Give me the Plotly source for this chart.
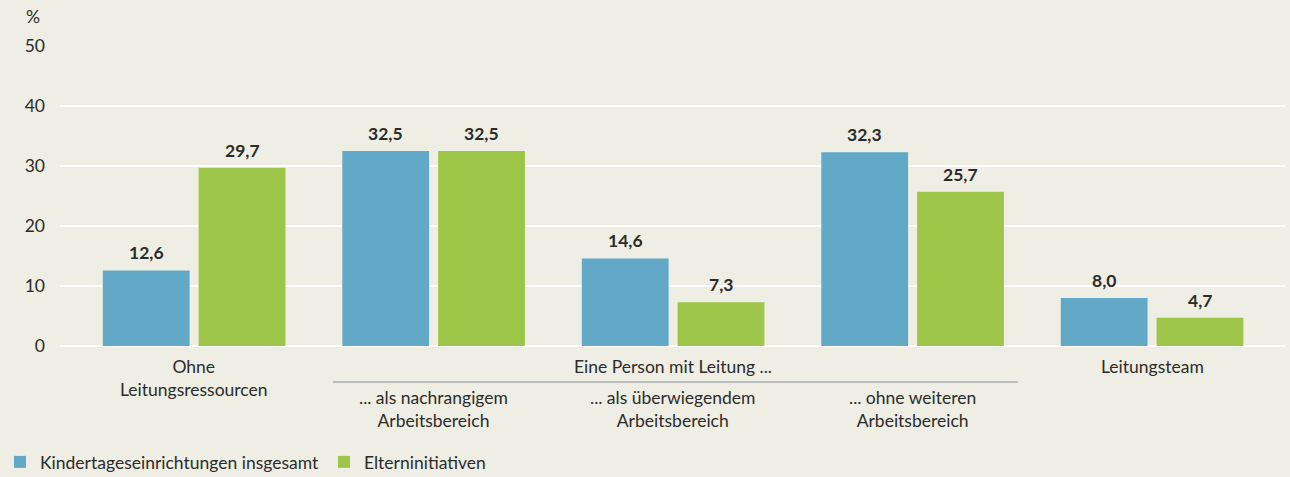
import plotly.graph_objects as go

categories = ["Ohne<br>Leitungsressourcen", "... als nachrangigem<br>Arbeitsbereich",
              "... als überwiegendem<br>Arbeitsbereich", "... ohne weiteren<br>Arbeitsbereich",
              "Leitungsteam"]
kita = [12.6, 32.5, 14.6, 32.3, 8.0]
eltern = [29.7, 32.5, 7.3, 25.7, 4.7]
series_names = ["Kindertageseinrichtungen insgesamt", "Elterninitiativen"]
group_label = "Eine Person mit Leitung ..."
y_ticks = [0, 10, 20, 30, 40, 50]

BG = "#EFEEE4"
BLUE = "#62A8C7"
GREEN = "#9DC548"
TXT = "#2b2b2b"
FONT = "Lato"
FS = 17.5
BARGAP = 0.2

x = list(range(len(categories)))
slot = (1 - BARGAP) / 2

fig = go.Figure()
annotations = []
for k, (name, vals, col) in enumerate([(series_names[0], kita, BLUE), (series_names[1], eltern, GREEN)]):
    fig.add_trace(go.Bar(x=x, y=vals, name=name, marker_color=col, marker_line_width=0))
    off = (k - 0.5) * slot
    for xi, v in zip(x, vals):
        annotations.append(dict(x=xi + off, y=v, xref="x", yref="y", showarrow=False,
                                text=f"{v:.1f}".replace(".", ","), yanchor="bottom", xanchor="center",
                                yshift=5, font=dict(family=FONT, size=17.5, color=TXT, weight="bold")))

for i in [0, 4]:
    annotations.append(dict(x=i, y=-0.028, xref="x", yref="paper", text=categories[i], showarrow=False,
                            yanchor="top", xanchor="center",
                            font=dict(family=FONT, size=FS, color=TXT)))
annotations.append(dict(x=2, y=-0.028, xref="x", yref="paper", text=group_label, showarrow=False,
                        yanchor="top", xanchor="center", font=dict(family=FONT, size=FS, color=TXT)))
for i in [1, 2, 3]:
    annotations.append(dict(x=i, y=-0.131, xref="x", yref="paper", text=categories[i], showarrow=False,
                            yanchor="top", xanchor="center",
                            font=dict(family=FONT, size=FS, color=TXT)))
annotations.append(dict(x=(33 - 60) / 1225, y=(477 - 131 - 17) / 300, xref="paper", yref="paper",
                        text="%", showarrow=False, xanchor="center", yanchor="middle",
                        font=dict(family=FONT, size=FS, color=TXT)))

shapes = [dict(type="line", xref="x", yref="paper", x0=0.58, x1=3.44, y0=-0.12, y1=-0.12,
               line=dict(color="#A9AEB0", width=1.5))]

fig.update_layout(
    width=1290, height=477,
    paper_bgcolor=BG, plot_bgcolor=BG,
    margin=dict(l=60, r=5, t=46, b=131),
    barmode="group", bargap=BARGAP, bargroupgap=0.094,
    font=dict(family=FONT, size=FS, color=TXT),
    showlegend=True,
    legend=dict(orientation="h", xref="paper", yref="container", x=(-10 - 60) / 1225, y=(477 - 462) / 477,
                xanchor="left", yanchor="middle", font=dict(family=FONT, size=FS, color=TXT),
                traceorder="normal", bgcolor="rgba(0,0,0,0)"),
    annotations=annotations, shapes=shapes,
)
fig.update_xaxes(range=[-0.56, 4.555], showticklabels=False, showgrid=False, zeroline=False,
                 fixedrange=True)
fig.update_yaxes(range=[0, 50], tickvals=y_ticks, showgrid=True, gridcolor="white", gridwidth=2,
                 zeroline=True, zerolinecolor="white", zerolinewidth=2,
                 tickfont=dict(family=FONT, size=FS, color=TXT), ticklabelstandoff=14,
                 layer="below traces")

fig.write_html("out.html", config={"displayModeBar": False},
               post_script="document.body.style.margin='0px';")
